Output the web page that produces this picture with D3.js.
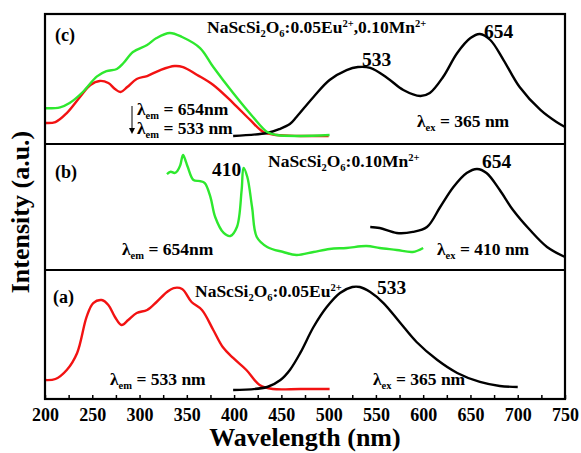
<!DOCTYPE html>
<html>
<head>
<meta charset="utf-8">
<script src="https://cdn.jsdelivr.net/npm/d3@7"></script>
<style>
  body { margin: 0; background: #fff; }
  text { font-family: "Liberation Serif", "Times New Roman", serif; font-weight: bold; }
</style>
</head>
<body>
<div id="chart"></div>
<script>
// 图大小
const width = 581, height = 453;

// x 轴刻度
const xTicks = [200, 250, 300, 350, 400, 450, 500, 550, 600, 650, 700, 750];

// (c) NaScSi2O6:0.05Eu2+,0.10Mn2+  激发 (λem=654, 绿) / (λem=533, 红), 发射 (λex=365, 黑)
const cGreenNm = [200, 216, 226, 240, 255, 265, 276, 283, 293, 308, 318, 332, 345, 364, 378, 399, 420, 435, 445, 470, 501];
const cGreenI  = [27.5, 28.2, 31.5, 40, 52, 56, 57.7, 62.3, 70.8, 76.2, 81.5, 85.4, 82.3, 73.8, 59.2, 39.2, 20.8, 9.2, 6.9, 6.2, 6.9];
const cRedNm   = [200, 211, 223, 237, 248, 258, 267, 274, 280, 287, 297, 308, 322, 337, 346, 361, 378, 399, 417, 431, 445, 470, 500];
const cRedI    = [16.2, 16.9, 23.8, 36.2, 45.4, 48.5, 46.9, 42.3, 40, 43.8, 50, 52.3, 56.9, 60, 59.2, 53.1, 45.4, 31.5, 18.5, 9.2, 6.9, 6.2, 6.2];
const cBlackNm = [399, 435, 448, 459, 466, 484, 501, 519, 531, 544, 562, 579, 597, 607, 621, 636, 650, 660, 671, 685, 702, 724, 741, 750];
const cBlackI  = [6.2, 8.5, 11.5, 15.4, 20.8, 36.2, 49.2, 56.9, 59.2, 58.5, 50.8, 41.5, 36.9, 39.2, 51.5, 70, 81.5, 84.6, 80, 64.6, 43.8, 26.2, 16.9, 13.1];

// (b) NaScSi2O6:0.10Mn2+  激发 (λem=654, 绿), 发射 (λex=410, 黑)
const bGreenNm = [329, 333, 337, 340, 343, 346, 349, 351, 357, 364, 369, 375, 380, 389, 396, 403, 408, 410, 414, 419, 424, 435, 452, 466, 484, 501, 519, 540, 554, 572, 589, 600];
const bGreenI  = [76, 78, 77, 78.6, 83, 91.3, 86, 81.7, 71.4, 70.6, 69, 57.9, 42.1, 29.4, 27, 34.1, 63.5, 81, 73.8, 50, 26.2, 18.3, 14.3, 11.9, 14.3, 16.7, 17.5, 19, 17.5, 15.9, 14.3, 17.5];
const bBlackNm = [544, 554, 572, 589, 604, 618, 632, 646, 657, 667, 681, 695, 713, 731, 750];
const bBlackI  = [34.1, 33.3, 29.4, 30.2, 34.1, 50, 65.9, 77, 80.2, 77, 63.5, 47.6, 31.7, 18.3, 10.3];

// (a) NaScSi2O6:0.05Eu2+  激发 (λem=533, 红), 发射 (λex=365, 黑)
const aRedNm   = [200, 211, 223, 234, 244, 251, 260, 267, 274, 281, 288, 297, 308, 318, 329, 336, 345, 355, 366, 378, 388, 399, 413, 427, 441, 470, 501];
const aRedI    = [14.7, 15.5, 22.5, 35.7, 63.6, 74.4, 76.7, 72.9, 63.6, 57.4, 61.2, 66.7, 69, 75.2, 82.9, 86, 85.3, 75.2, 69, 53.5, 40.3, 31.8, 22.5, 10.9, 7.8, 7.8, 7.8];
const aBlackNm = [399, 435, 449, 459, 470, 484, 498, 512, 525, 533, 544, 558, 575, 593, 615, 636, 660, 681, 700];
const aBlackI  = [7, 9.3, 14.7, 22.5, 35.7, 55.8, 71.3, 82.2, 86.8, 86.8, 82.9, 74.4, 59.7, 44.2, 30.2, 20.2, 13.2, 10.1, 9.3];

const RED = "#f21212", GREEN = "#2ee82e", BLACK = "#000";

const svg = d3.select("#chart").append("svg")
    .attr("width", width)
    .attr("height", height);

const left = 45, right = 565;
const x = d3.scaleLinear().domain([200, 750]).range([left, right]);

// 三个面板的上下边界
const panels = [
    { name: "c", top: 14,  bottom: 144 },
    { name: "b", top: 144, bottom: 270 },
    { name: "a", top: 270, bottom: 399 }
];

const zip = (xs, ys) => xs.map((v, i) => [v, ys[i]]);

const drawLine = (panel, xs, ys, color) => {
    const y = d3.scaleLinear().domain([0, 100]).range([panel.bottom, panel.top]);
    const line = d3.line()
        .x(d => x(d[0]))
        .y(d => y(d[1]))
        .curve(d3.curveCatmullRom.alpha(0.5));
    svg.append("path")
        .datum(zip(xs, ys))
        .attr("d", line)
        .attr("fill", "none")
        .attr("stroke", color)
        .attr("stroke-width", 2.4)
        .attr("stroke-linejoin", "round");
};

// 曲线
drawLine(panels[0], cRedNm, cRedI, RED);
drawLine(panels[0], cBlackNm, cBlackI, BLACK);
drawLine(panels[0], cGreenNm, cGreenI, GREEN);
drawLine(panels[1], bGreenNm, bGreenI, GREEN);
drawLine(panels[1], bBlackNm, bBlackI, BLACK);
drawLine(panels[2], aRedNm, aRedI, RED);
drawLine(panels[2], aBlackNm, aBlackI, BLACK);

// 边框和分隔线
svg.append("rect")
    .attr("x", left).attr("y", 14)
    .attr("width", right - left).attr("height", 399 - 14)
    .attr("fill", "none").attr("stroke", "#000").attr("stroke-width", 2.2);
[144, 270].forEach(yy => {
    svg.append("line")
        .attr("x1", left).attr("x2", right)
        .attr("y1", yy).attr("y2", yy)
        .attr("stroke", "#000").attr("stroke-width", 2.2);
});

// x 轴 (刻度朝内)
const xAxis = d3.axisBottom(x)
    .tickValues(d3.range(200, 751, 25))
    .tickSizeInner(-4).tickSizeOuter(0)
    .tickFormat(d => xTicks.includes(d) ? d : "");
const gx = svg.append("g").attr("transform", `translate(0,399)`).call(xAxis);
gx.select(".domain").remove();
gx.selectAll(".tick line").attr("stroke-width", 1.5);
gx.selectAll(".tick text")
    .attr("y", 9)
    .attr("dy", "0.71em")
    .style("font-family", "Liberation Serif")
    .style("font-weight", "bold")
    .style("font-size", "18px")
    .attr("fill", "#000");

// 轴标题
svg.append("text")
    .attr("x", 305).attr("y", 446)
    .attr("text-anchor", "middle")
    .style("font-size", "26px")
    .text("Wavelength (nm)");
svg.append("text")
    .attr("transform", "translate(29,212) rotate(-90)")
    .attr("text-anchor", "middle")
    .style("font-size", "26px")
    .text("Intensity (a.u.)");

// 文本工具: 带上下标的标签
const label = (xx, yy, parts, size) => {
    const t = svg.append("text").attr("x", xx).attr("y", yy).style("font-size", size + "px");
    parts.forEach(p => {
        const s = t.append("tspan").text(p.t);
        if (p.sub) s.attr("baseline-shift", "-35%").style("font-size", (size * 0.6) + "px");
        if (p.sup) s.attr("baseline-shift", "55%").style("font-size", (size * 0.6) + "px");
    });
    return t;
};

const formula = (xx, yy, tail) => label(xx, yy, [
    { t: "NaScSi" }, { t: "2", sub: true }, { t: "O" }, { t: "6", sub: true }
].concat(tail), 17.5);

// (c)
label(55, 41, [{ t: "(c)" }], 18);
formula(207, 33, [{ t: ":0.05Eu" }, { t: "2+", sup: true }, { t: ",0.10Mn" }, { t: "2+", sup: true }]);
label(362, 66, [{ t: "533" }], 19.5);
label(484, 38, [{ t: "654" }], 19.5);
label(137, 115, [{ t: "λ" }, { t: "em", sub: true }, { t: " = 654nm" }], 17.5);
label(137, 134, [{ t: "λ" }, { t: "em", sub: true }, { t: " = 533 nm" }], 17.5);
label(417, 127, [{ t: "λ" }, { t: "ex", sub: true }, { t: " = 365 nm" }], 17.5);
// 向下箭头
svg.append("line")
    .attr("x1", 132).attr("x2", 132).attr("y1", 106).attr("y2", 131)
    .attr("stroke", "#000").attr("stroke-width", 1);
svg.append("path")
    .attr("d", "M129,128 L135,128 L132,134 Z")
    .attr("fill", "#000");

// (b)
label(55, 178, [{ t: "(b)" }], 18);
formula(268, 167, [{ t: ":0.10Mn" }, { t: "2+", sup: true }]);
label(212, 176, [{ t: "410" }], 19.5);
label(482, 168, [{ t: "654" }], 19.5);
label(122, 255, [{ t: "λ" }, { t: "em", sub: true }, { t: " = 654nm" }], 17.5);
label(437, 255, [{ t: "λ" }, { t: "ex", sub: true }, { t: " = 410 nm" }], 17.5);

// (a)
label(53, 303, [{ t: "(a)" }], 18);
formula(195, 297, [{ t: ":0.05Eu" }, { t: "2+", sup: true }]);
label(377, 294, [{ t: "533" }], 19.5);
label(110, 385, [{ t: "λ" }, { t: "em", sub: true }, { t: " = 533 nm" }], 17.5);
label(373, 385, [{ t: "λ" }, { t: "ex", sub: true }, { t: " = 365 nm" }], 17.5);
</script>
</body>
</html>
